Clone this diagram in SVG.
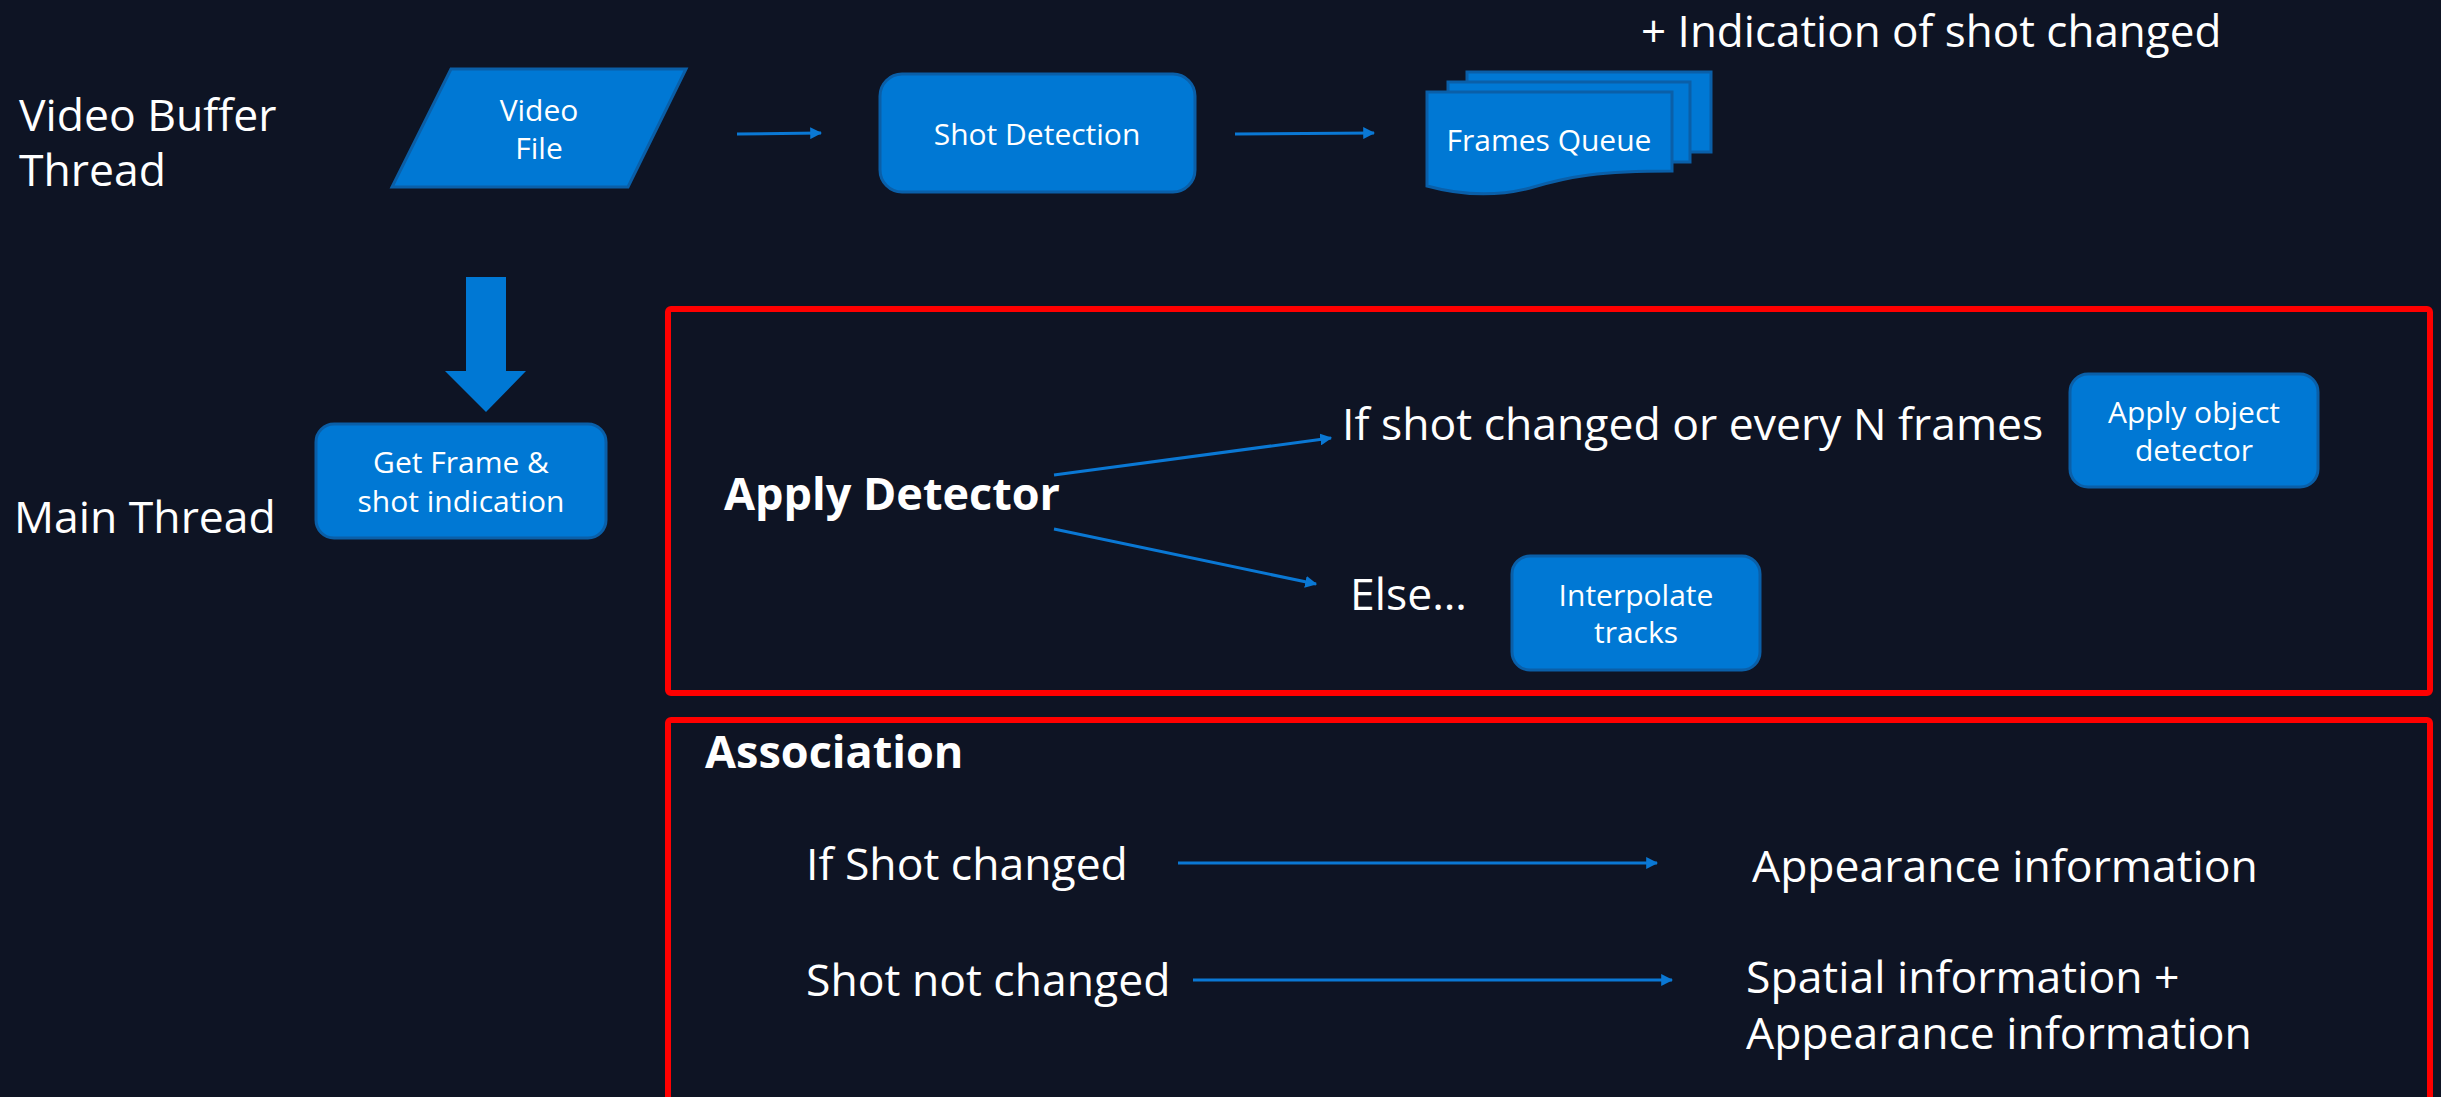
<svg xmlns="http://www.w3.org/2000/svg" width="2441" height="1097" viewBox="0 0 2441 1097">
  <defs>
    <marker id="ah" viewBox="0 0 10 10" refX="9" refY="5" markerWidth="4" markerHeight="4" orient="auto" markerUnits="strokeWidth">
      <path d="M0,0 L10,5 L0,10 z" fill="#0a78d4"/>
    </marker>
  </defs>
  <style>
    .lbl { font-family: "Open Sans", "Noto Sans", sans-serif; fill: #ffffff; }
    .big { font-size: 44.5px; }
    .bold { font-size: 45px; font-weight: bold; }
    .nt { font-family: "Open Sans", "Noto Sans", sans-serif; fill: #ffffff; font-size: 30px; text-anchor: middle; }
    .box { fill: #0078d4; stroke: #0a5fa8; stroke-width: 3; }
    .conn { stroke: #0a78d4; stroke-width: 3; fill: none; marker-end: url(#ah); }
    .frame { fill: none; stroke: #ff0000; stroke-width: 6; }
  </style>
  <rect x="0" y="0" width="2441" height="1097" fill="#0e1424"/>

  <g id="lane-labels">
    <text class="lbl big" x="19" y="131">Video Buffer</text>
    <text class="lbl big" x="19" y="186">Thread</text>
    <text class="lbl big" x="14" y="533">Main Thread</text>
    <text class="lbl" x="1641" y="47" font-size="44">+ Indication of shot changed</text>
  </g>

  <g id="frames">
    <rect class="frame" x="668" y="309" width="1762" height="384" rx="3"/>
    <rect class="frame" x="668" y="720" width="1762" height="400" rx="3"/>
  </g>

  <g id="video-file">
    <path class="box" d="M451,69 L686,69 L628,187 L392,187 Z"/>
    <text class="nt" x="539" y="121">Video</text>
    <text class="nt" x="539" y="159">File</text>
  </g>

  <g id="shot-detection">
    <rect class="box" x="880" y="74" width="315" height="118" rx="22"/>
    <text class="nt" x="1037" y="145">Shot Detection</text>
  </g>

  <g id="frames-queue">
    <rect class="box" x="1467" y="72" width="244" height="80"/>
    <rect class="box" x="1448" y="82" width="242" height="80"/>
    <path class="box" d="M1427,92 H1672 V171 C1600,171 1570,176 1530,188 C1495,197 1460,195 1427,186 Z"/>
    <text class="nt" x="1549" y="151">Frames Queue</text>
  </g>

  <g id="get-frame">
    <rect class="box" x="316" y="424" width="290" height="114" rx="18"/>
    <text class="nt" x="461" y="473">Get Frame &amp;</text>
    <text class="nt" x="461" y="512">shot indication</text>
  </g>

  <g id="apply-object-detector">
    <rect class="box" x="2070" y="374" width="248" height="113" rx="18"/>
    <text class="nt" x="2194" y="423">Apply object</text>
    <text class="nt" x="2194" y="461">detector</text>
  </g>

  <g id="interpolate-tracks">
    <rect class="box" x="1512" y="556" width="248" height="114" rx="18"/>
    <text class="nt" x="1636" y="606">Interpolate</text>
    <text class="nt" x="1636" y="643">tracks</text>
  </g>

  <g id="texts">
    <text class="lbl bold" x="724" y="510">Apply Detector</text>
    <text class="lbl big" x="1342" y="440">If shot changed or every N frames</text>
    <text class="lbl big" x="1350" y="610">Else…</text>
    <text class="lbl bold" x="705" y="768">Association</text>
    <text class="lbl big" x="806" y="880">If Shot changed</text>
    <text class="lbl big" x="806" y="996">Shot not changed</text>
    <text class="lbl big" x="1752" y="882">Appearance information</text>
    <text class="lbl big" x="1746" y="993">Spatial information +</text>
    <text class="lbl big" x="1746" y="1049">Appearance information</text>
  </g>

  <g id="connectors">
    <line class="conn" x1="737" y1="134" x2="821" y2="133"/>
    <line class="conn" x1="1235" y1="134" x2="1374" y2="133"/>
    <path d="M466,277 H506 V371 H526 L486,412 L445,371 H466 Z" fill="#0078d4"/>
    <line class="conn" x1="1054" y1="475" x2="1331" y2="438"/>
    <line class="conn" x1="1054" y1="529" x2="1316" y2="584"/>
    <line class="conn" x1="1178" y1="863" x2="1657" y2="863"/>
    <line class="conn" x1="1193" y1="980" x2="1672" y2="980"/>
  </g>
</svg>
